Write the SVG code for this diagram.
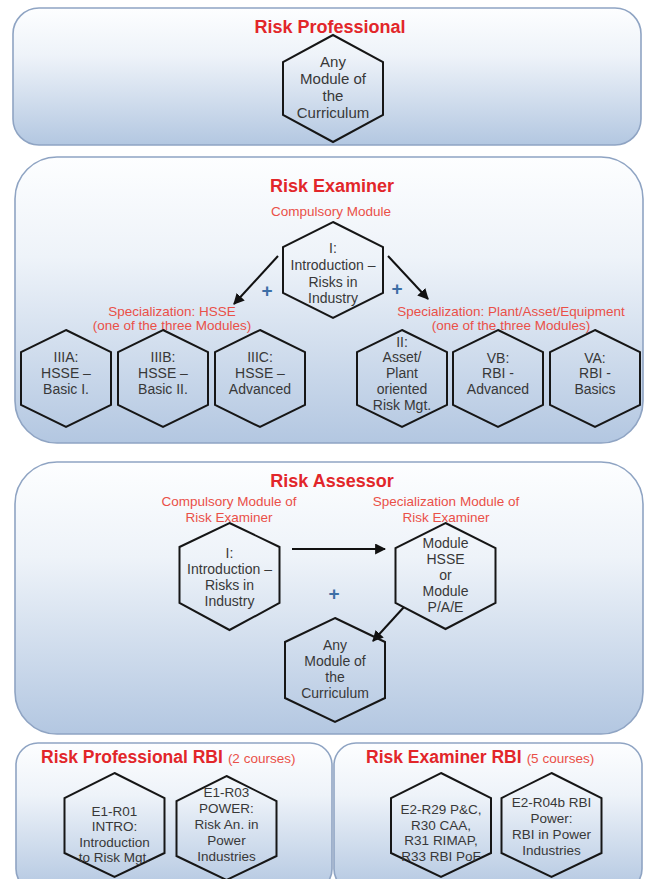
<svg xmlns="http://www.w3.org/2000/svg" width="649" height="879" viewBox="0 0 649 879">
<defs>
<linearGradient id="pg" x1="0" y1="0" x2="0" y2="1">
<stop offset="0" stop-color="#fdfeff"/>
<stop offset="0.35" stop-color="#eef3f9"/>
<stop offset="1" stop-color="#b3c7e1"/>
</linearGradient>
<marker id="ah" viewBox="0 0 10 10" refX="9" refY="5" markerWidth="11" markerHeight="11" markerUnits="userSpaceOnUse" orient="auto">
<path d="M0,0 L10,5 L0,10 z" fill="#111"/>
</marker>
<style>
.panel{fill:url(#pg);stroke:#8fa4c3;stroke-width:1.6}
.hex{fill:none;stroke:#161616;stroke-width:2}
text{font-family:"Liberation Sans",Arial,sans-serif;text-anchor:middle}
.title{font-size:18px;font-weight:bold;fill:#e2262a}
.sub{font-size:13.5px;fill:#ea5048}
.t{font-size:14px;fill:#383838}
.t15{font-size:15px;fill:#383838}
.t13{font-size:13.5px;fill:#383838}
.plus{font-size:19px;font-weight:bold;fill:#3d6fa6}
.conn{stroke:#111;stroke-width:2;fill:none;marker-end:url(#ah)}
</style>
</defs>
<rect width="649" height="879" fill="#fff"/>

<g id="panel-risk-professional">
<rect class="panel" x="13" y="8" width="628" height="137" rx="26"/>
<text class="title" x="330" y="33">Risk Professional</text>
</g>
<g id="panel-risk-examiner">
<rect class="panel" x="15" y="157" width="628" height="286" rx="42"/>
<text class="title" x="332" y="192">Risk Examiner</text>
<text class="sub" x="331" y="216">Compulsory Module</text>
<text class="sub" x="172" y="316">Specialization: HSSE</text>
<text class="sub" x="172" y="330">(one of the three Modules)</text>
<text class="sub" x="511" y="316">Specialization: Plant/Asset/Equipment</text>
<text class="sub" x="511" y="330">(one of the three Modules)</text>
<text class="plus" x="267" y="297">+</text>
<text class="plus" x="397" y="295">+</text>
</g>
<g id="panel-risk-assessor">
<rect class="panel" x="15" y="462" width="628" height="272" rx="42"/>
<text class="title" x="332" y="487">Risk Assessor</text>
<text class="sub" x="229" y="506">Compulsory Module of</text>
<text class="sub" x="229" y="522">Risk Examiner</text>
<text class="sub" x="446" y="506">Specialization Module of</text>
<text class="sub" x="446" y="522">Risk Examiner</text>
<text class="plus" x="334" y="600">+</text>
</g>
<g id="panel-professional-rbi">
<rect class="panel" x="16" y="743" width="316" height="148" rx="22"/>
<text class="title" x="41" y="763" style="text-anchor:start;font-size:17.5px">Risk Professional RBI<tspan class="sub" dx="5" style="font-weight:normal">(2 courses)</tspan></text>
</g>
<g id="panel-examiner-rbi">
<rect class="panel" x="334" y="743" width="308" height="148" rx="22"/>
<text class="title" x="366" y="763" style="text-anchor:start;font-size:17.5px">Risk Examiner RBI<tspan class="sub" dx="5" style="font-weight:normal">(5 courses)</tspan></text>
</g>

<g id="connectors">
<line class="conn" x1="278" y1="256" x2="234" y2="304"/>
<line class="conn" x1="388" y1="256" x2="428" y2="299"/>
<line class="conn" x1="292" y1="549" x2="385" y2="549"/>
<line class="conn" x1="404" y1="607" x2="373" y2="641"/>
</g>

<g id="hex-any-module-1">
<polygon class="hex" points="333,35 383,62 383,115 333,142 283,115 283,62"/>
<text class="t15" x="333" y="67">Any</text>
<text class="t15" x="333" y="84">Module of</text>
<text class="t15" x="333" y="101">the</text>
<text class="t15" x="333" y="118">Curriculum</text>
</g>

<g id="hex-intro-examiner">
<polygon class="hex" points="333,222 383,247 383,293 333,318 283,293 283,247"/>
<text class="t" x="333" y="253">I:</text>
<text class="t" x="333" y="270">Introduction –</text>
<text class="t" x="333" y="287">Risks in</text>
<text class="t" x="333" y="303">Industry</text>
</g>

<g id="hex-iiia">
<polygon class="hex" points="66,330 111,352 111,405 66,427 21,405 21,352"/>
<text class="t" x="66" y="362">IIIA:</text>
<text class="t" x="66" y="378">HSSE –</text>
<text class="t" x="66" y="394">Basic I.</text>
</g>
<g id="hex-iiib">
<polygon class="hex" points="163,330 208,352 208,405 163,427 118,405 118,352"/>
<text class="t" x="163" y="362">IIIB:</text>
<text class="t" x="163" y="378">HSSE –</text>
<text class="t" x="163" y="394">Basic II.</text>
</g>
<g id="hex-iiic">
<polygon class="hex" points="260,330 305,352 305,405 260,427 215,405 215,352"/>
<text class="t" x="260" y="362">IIIC:</text>
<text class="t" x="260" y="378">HSSE –</text>
<text class="t" x="260" y="394">Advanced</text>
</g>
<g id="hex-ii">
<polygon class="hex" points="402,330 447,352 447,405 402,427 357,405 357,352"/>
<text class="t" x="402" y="347">II:</text>
<text class="t" x="402" y="362">Asset/</text>
<text class="t" x="402" y="378">Plant</text>
<text class="t" x="402" y="394">oriented</text>
<text class="t" x="402" y="410">Risk Mgt.</text>
</g>
<g id="hex-vb">
<polygon class="hex" points="498,330 543,352 543,405 498,427 453,405 453,352"/>
<text class="t" x="498" y="363">VB:</text>
<text class="t" x="498" y="378">RBI -</text>
<text class="t" x="498" y="394">Advanced</text>
</g>
<g id="hex-va">
<polygon class="hex" points="595,330 640,352 640,405 595,427 550,405 550,352"/>
<text class="t" x="595" y="363">VA:</text>
<text class="t" x="595" y="378">RBI -</text>
<text class="t" x="595" y="394">Basics</text>
</g>

<g id="hex-intro-assessor">
<polygon class="hex" points="229.5,523 279.5,547 279.5,603 229.5,630 179.5,603 179.5,547"/>
<text class="t" x="229.5" y="558">I:</text>
<text class="t" x="229.5" y="574">Introduction –</text>
<text class="t" x="229.5" y="590">Risks in</text>
<text class="t" x="229.5" y="606">Industry</text>
</g>
<g id="hex-module-hsse-pae">
<polygon class="hex" points="445.5,523 495.5,548 495.5,603 445.5,629 395.5,603 395.5,548"/>
<text class="t" x="445.5" y="548">Module</text>
<text class="t" x="445.5" y="564">HSSE</text>
<text class="t" x="445.5" y="580">or</text>
<text class="t" x="445.5" y="596">Module</text>
<text class="t" x="445.5" y="612">P/A/E</text>
</g>
<g id="hex-any-module-2">
<polygon class="hex" points="335,618 385,642 385,698 335,722 285,698 285,642"/>
<text class="t" x="335" y="650">Any</text>
<text class="t" x="335" y="666">Module of</text>
<text class="t" x="335" y="682">the</text>
<text class="t" x="335" y="698">Curriculum</text>
</g>

<g id="hex-e1-r01">
<polygon class="hex" points="114.5,773 164.5,798 164.5,853 114.5,877 64.5,853 64.5,798"/>
<text class="t13" x="114.5" y="816">E1-R01</text>
<text class="t13" x="114.5" y="831">INTRO:</text>
<text class="t13" x="114.5" y="847">Introduction</text>
<text class="t13" x="114.5" y="862">to Risk Mgt.</text>
</g>
<g id="hex-e1-r03">
<polygon class="hex" points="226.5,776 276.5,801 276.5,856 226.5,880 176.5,856 176.5,801"/>
<text class="t13" x="226.5" y="797">E1-R03</text>
<text class="t13" x="226.5" y="813">POWER:</text>
<text class="t13" x="226.5" y="829">Risk An. in</text>
<text class="t13" x="226.5" y="845">Power</text>
<text class="t13" x="226.5" y="861">Industries</text>
</g>
<g id="hex-e2-r29">
<polygon class="hex" points="441,773 491,798 491,853 441,877 391,853 391,798"/>
<text class="t13" x="441" y="814">E2-R29 P&amp;C,</text>
<text class="t13" x="441" y="830">R30 CAA,</text>
<text class="t13" x="441" y="845">R31 RIMAP,</text>
<text class="t13" x="441" y="861">R33 RBI PoF</text>
</g>
<g id="hex-e2-r04b">
<polygon class="hex" points="551.5,773 601.5,798 601.5,853 551.5,877 501.5,853 501.5,798"/>
<text class="t13" x="551.5" y="807">E2-R04b RBI</text>
<text class="t13" x="551.5" y="823">Power:</text>
<text class="t13" x="551.5" y="839">RBI in Power</text>
<text class="t13" x="551.5" y="855">Industries</text>
</g>
</svg>
